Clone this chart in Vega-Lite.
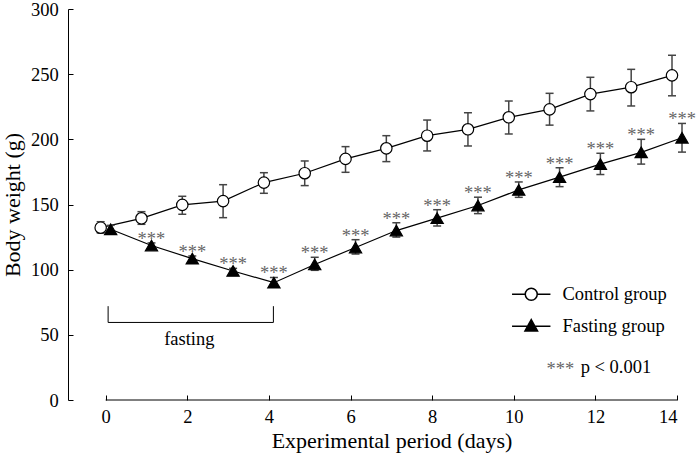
{
  "$schema": "https://vega.github.io/schema/vega-lite/v6.json",
  "width": 609,
  "height": 391,
  "autosize": {"type": "none"},
  "padding": {"left": 68, "top": 9, "right": 19, "bottom": 59},
  "background": "white",
  "config": {
    "view": {"stroke": null},
    "font": "Liberation Serif",
    "axis": {
      "labelFont": "Liberation Serif", "labelFontSize": 18.5, "labelColor": "black",
      "titleFont": "Liberation Serif", "titleFontSize": 22, "titleFontWeight": "normal", "titleColor": "black",
      "tickColor": "black", "domainColor": "black", "grid": false, "tickSize": -5, "tickWidth": 1, "domainWidth": 1
    },
    "legend": {"labelFont": "Liberation Serif", "labelFontSize": 18.5, "labelColor": "black"}
  },
  "datasets": {
    "wt": [
      {"day": 0, "group": "Control group", "mean": 132.2, "lower": 128.2, "upper": 136.8, "sig": ""},
      {"day": 1, "group": "Control group", "mean": 139.4, "lower": 134.8, "upper": 144.5, "sig": ""},
      {"day": 2, "group": "Control group", "mean": 149.7, "lower": 142.5, "upper": 156.3, "sig": ""},
      {"day": 3, "group": "Control group", "mean": 152.6, "lower": 139.9, "upper": 165.2, "sig": ""},
      {"day": 4, "group": "Control group", "mean": 166.8, "lower": 158.6, "upper": 174.4, "sig": ""},
      {"day": 5, "group": "Control group", "mean": 174.0, "lower": 164.5, "upper": 183.4, "sig": ""},
      {"day": 6, "group": "Control group", "mean": 185.0, "lower": 174.7, "upper": 194.4, "sig": ""},
      {"day": 7, "group": "Control group", "mean": 193.1, "lower": 182.9, "upper": 202.8, "sig": ""},
      {"day": 8, "group": "Control group", "mean": 202.8, "lower": 191.1, "upper": 214.8, "sig": ""},
      {"day": 9, "group": "Control group", "mean": 207.7, "lower": 194.9, "upper": 220.4, "sig": ""},
      {"day": 10, "group": "Control group", "mean": 216.9, "lower": 204.1, "upper": 229.4, "sig": ""},
      {"day": 11, "group": "Control group", "mean": 223.0, "lower": 210.9, "upper": 235.3, "sig": ""},
      {"day": 12, "group": "Control group", "mean": 234.7, "lower": 221.8, "upper": 247.6, "sig": ""},
      {"day": 13, "group": "Control group", "mean": 240.0, "lower": 225.6, "upper": 253.7, "sig": ""},
      {"day": 14, "group": "Control group", "mean": 249.1, "lower": 233.4, "upper": 264.5, "sig": ""},
      {"day": 0, "group": "Fasting group", "mean": 131.0, "lower": 128.5, "upper": 134.0, "sig": ""},
      {"day": 1, "group": "Fasting group", "mean": 118.5, "lower": 116.8, "upper": 120.5, "sig": "***"},
      {"day": 2, "group": "Fasting group", "mean": 108.5, "lower": 106.8, "upper": 110.5, "sig": "***"},
      {"day": 3, "group": "Fasting group", "mean": 99.0, "lower": 97.2, "upper": 101.0, "sig": "***"},
      {"day": 4, "group": "Fasting group", "mean": 90.0, "lower": 86.5, "upper": 94.0, "sig": "***"},
      {"day": 5, "group": "Fasting group", "mean": 104.0, "lower": 99.5, "upper": 109.5, "sig": "***"},
      {"day": 6, "group": "Fasting group", "mean": 117.0, "lower": 112.0, "upper": 123.0, "sig": "***"},
      {"day": 7, "group": "Fasting group", "mean": 130.0, "lower": 125.0, "upper": 136.0, "sig": "***"},
      {"day": 8, "group": "Fasting group", "mean": 139.5, "lower": 133.5, "upper": 146.0, "sig": "***"},
      {"day": 9, "group": "Fasting group", "mean": 149.2, "lower": 143.0, "upper": 155.6, "sig": "***"},
      {"day": 10, "group": "Fasting group", "mean": 161.2, "lower": 155.5, "upper": 167.3, "sig": "***"},
      {"day": 11, "group": "Fasting group", "mean": 171.0, "lower": 163.7, "upper": 178.2, "sig": "***"},
      {"day": 12, "group": "Fasting group", "mean": 181.0, "lower": 173.0, "upper": 189.3, "sig": "***"},
      {"day": 13, "group": "Fasting group", "mean": 190.0, "lower": 181.0, "upper": 200.0, "sig": "***"},
      {"day": 14, "group": "Fasting group", "mean": 201.2, "lower": 190.2, "upper": 212.2, "sig": "***"}
    ]
  },
  "data": {"name": "wt"},
  "encoding": {
    "x": {
      "field": "day", "type": "quantitative",
      "scale": {"domain": [-0.923, 14], "nice": false, "zero": false},
      "title": "Experimental period (days)",
      "axis": {"values": [0, 2, 4, 6, 8, 10, 12, 14], "domain": false, "labelPadding": 12.4, "titleX": 323.5, "titleY": 30, "titleAnchor": null, "titleAlign": "center"}
    },
    "y": {
      "field": "mean", "type": "quantitative",
      "scale": {"domain": [0, 300], "nice": false, "zero": true},
      "title": "Body weight (g)",
      "axis": {"values": [0, 50, 100, 150, 200, 250, 300], "labelPadding": 14.7, "titleX": -43.4}
    }
  },
  "layer": [
    {
      "transform": [{"filter": "datum.group === 'Control group' && datum.day === 0"}],
      "mark": {"type": "rule", "color": "black", "strokeWidth": 1},
      "encoding": {
        "x": {"datum": 0, "type": "quantitative", "title": "Experimental period (days)"},
        "x2": {"datum": 14},
        "y": {"datum": 0, "type": "quantitative", "title": "Body weight (g)"}
      }
    },
    {
      "transform": [{"filter": "datum.day < 0"}],
      "mark": {"type": "point", "filled": true, "stroke": "black", "strokeWidth": 1.2, "opacity": 1},
      "encoding": {
        "shape": {"field": "group", "type": "nominal",
          "scale": {"domain": ["Control group", "Fasting group"], "range": ["M-3.2,0H-1M1,0H3.2M-1,0A1,1,0,1,1,1,0A1,1,0,1,1,-1,0Z", "M-3.2,0H3.2M0,-1.1L1.05,0.8L-1.05,0.8Z"]},
          "legend": {"orient": "none", "legendX": 454, "legendY": 276, "title": null, "padding": 0, "symbolSize": 144, "labelOffset": 22, "rowPadding": 12, "symbolOpacity": 1,
            "encode": {"symbols": {"update": {"stroke": {"value": "black"}, "strokeWidth": {"value": 1.2}, "opacity": {"value": 1}}}}}},
        "fill": {"field": "group", "type": "nominal",
          "scale": {"domain": ["Control group", "Fasting group"], "range": ["white", "black"]},
          "legend": {"orient": "none", "legendX": 454, "legendY": 276, "title": null, "padding": 0, "symbolSize": 144, "labelOffset": 22, "rowPadding": 12, "symbolOpacity": 1,
            "encode": {"symbols": {"update": {"stroke": {"value": "black"}, "strokeWidth": {"value": 1.2}, "opacity": {"value": 1}}}}}}
      }
    },
    {
      "transform": [{"filter": "datum.group === 'Control group'"}],
      "mark": {"type": "line", "color": "black", "strokeWidth": 1.2, "xOffset": -5},
      "encoding": {}
    },
    {
      "transform": [{"filter": "datum.group === 'Control group'"}],
      "mark": {"type": "rule", "color": "#444444", "strokeWidth": 1.5, "xOffset": -5},
      "encoding": {"y": {"field": "lower", "type": "quantitative", "title": "Body weight (g)"}, "y2": {"field": "upper"}}
    },
    {
      "transform": [{"filter": "datum.group === 'Control group'"}],
      "mark": {"type": "point", "shape": "stroke", "size": 64, "color": "#444444", "strokeWidth": 1.5, "opacity": 1, "xOffset": -5},
      "encoding": {"y": {"field": "upper", "type": "quantitative", "title": "Body weight (g)"}}
    },
    {
      "transform": [{"filter": "datum.group === 'Control group'"}],
      "mark": {"type": "point", "shape": "stroke", "size": 64, "color": "#444444", "strokeWidth": 1.5, "opacity": 1, "xOffset": -5},
      "encoding": {"y": {"field": "lower", "type": "quantitative", "title": "Body weight (g)"}}
    },
    {
      "transform": [{"filter": "datum.group === 'Control group'"}],
      "mark": {"type": "point", "shape": "circle", "filled": true, "fill": "white", "stroke": "black", "strokeWidth": 1.2, "size": 130, "opacity": 1, "xOffset": -5},
      "encoding": {}
    },
    {
      "transform": [{"filter": "datum.group === 'Fasting group'"}],
      "mark": {"type": "line", "color": "black", "strokeWidth": 1.2, "xOffset": 5},
      "encoding": {}
    },
    {
      "transform": [{"filter": "datum.group === 'Fasting group'"}],
      "mark": {"type": "rule", "color": "#444444", "strokeWidth": 1.5, "xOffset": 5},
      "encoding": {"y": {"field": "lower", "type": "quantitative", "title": "Body weight (g)"}, "y2": {"field": "upper"}}
    },
    {
      "transform": [{"filter": "datum.group === 'Fasting group'"}],
      "mark": {"type": "point", "shape": "stroke", "size": 64, "color": "#444444", "strokeWidth": 1.5, "opacity": 1, "xOffset": 5},
      "encoding": {"y": {"field": "upper", "type": "quantitative", "title": "Body weight (g)"}}
    },
    {
      "transform": [{"filter": "datum.group === 'Fasting group'"}],
      "mark": {"type": "point", "shape": "stroke", "size": 64, "color": "#444444", "strokeWidth": 1.5, "opacity": 1, "xOffset": 5},
      "encoding": {"y": {"field": "lower", "type": "quantitative", "title": "Body weight (g)"}}
    },
    {
      "transform": [{"filter": "datum.group === 'Fasting group'"}],
      "mark": {"type": "point", "shape": "triangle-up", "filled": true, "fill": "black", "stroke": "black", "strokeWidth": 1.2, "size": 150, "opacity": 1, "xOffset": 5},
      "encoding": {}
    },
    {
      "transform": [{"filter": "datum.group === 'Fasting group'"}],
      "mark": {"type": "text", "font": "Liberation Serif", "fontSize": 18.5, "color": "#666666", "baseline": "alphabetic", "align": "center", "dy": 2, "xOffset": 5},
      "encoding": {"y": {"field": "upper", "type": "quantitative", "title": "Body weight (g)"}, "text": {"field": "sig"}}
    },
    {
      "transform": [{"filter": "datum.group === 'Control group' && datum.day === 0"}],
      "mark": {"type": "rule", "color": "black", "strokeWidth": 1},
      "encoding": {
        "x": {"datum": 0.06, "type": "quantitative", "title": "Experimental period (days)"},
        "x2": {"datum": 4.11},
        "y": {"datum": 59.5, "type": "quantitative", "title": "Body weight (g)"}
      }
    },
    {
      "transform": [{"filter": "datum.group === 'Control group' && datum.day === 0"}],
      "mark": {"type": "rule", "color": "black", "strokeWidth": 1},
      "encoding": {
        "x": {"datum": 0.06, "type": "quantitative", "title": "Experimental period (days)"},
        "y": {"datum": 59.5, "type": "quantitative", "title": "Body weight (g)"},
        "y2": {"datum": 72}
      }
    },
    {
      "transform": [{"filter": "datum.group === 'Control group' && datum.day === 0"}],
      "mark": {"type": "rule", "color": "black", "strokeWidth": 1},
      "encoding": {
        "x": {"datum": 4.11, "type": "quantitative", "title": "Experimental period (days)"},
        "y": {"datum": 59.5, "type": "quantitative", "title": "Body weight (g)"},
        "y2": {"datum": 72}
      }
    },
    {
      "transform": [{"filter": "datum.group === 'Control group' && datum.day === 0"}],
      "mark": {"type": "text", "text": "fasting", "font": "Liberation Serif", "fontSize": 18.5, "color": "black", "align": "center", "baseline": "middle"},
      "encoding": {
        "x": {"datum": 2.05, "type": "quantitative", "title": "Experimental period (days)"},
        "y": {"datum": 46.6, "type": "quantitative", "title": "Body weight (g)"}
      }
    },
    {
      "transform": [{"filter": "datum.group === 'Control group' && datum.day === 0"}],
      "mark": {"type": "text", "text": "***", "font": "Liberation Serif", "fontSize": 18.5, "color": "#666666", "align": "left", "baseline": "middle"},
      "encoding": {
        "x": {"datum": 10.8, "type": "quantitative", "title": "Experimental period (days)"},
        "y": {"datum": 23.5, "type": "quantitative", "title": "Body weight (g)"}
      }
    },
    {
      "transform": [{"filter": "datum.group === 'Control group' && datum.day === 0"}],
      "mark": {"type": "text", "text": "p < 0.001", "font": "Liberation Serif", "fontSize": 18.5, "color": "black", "align": "left", "baseline": "middle"},
      "encoding": {
        "x": {"datum": 11.64, "type": "quantitative", "title": "Experimental period (days)"},
        "y": {"datum": 25.3, "type": "quantitative", "title": "Body weight (g)"}
      }
    }
  ]
}
